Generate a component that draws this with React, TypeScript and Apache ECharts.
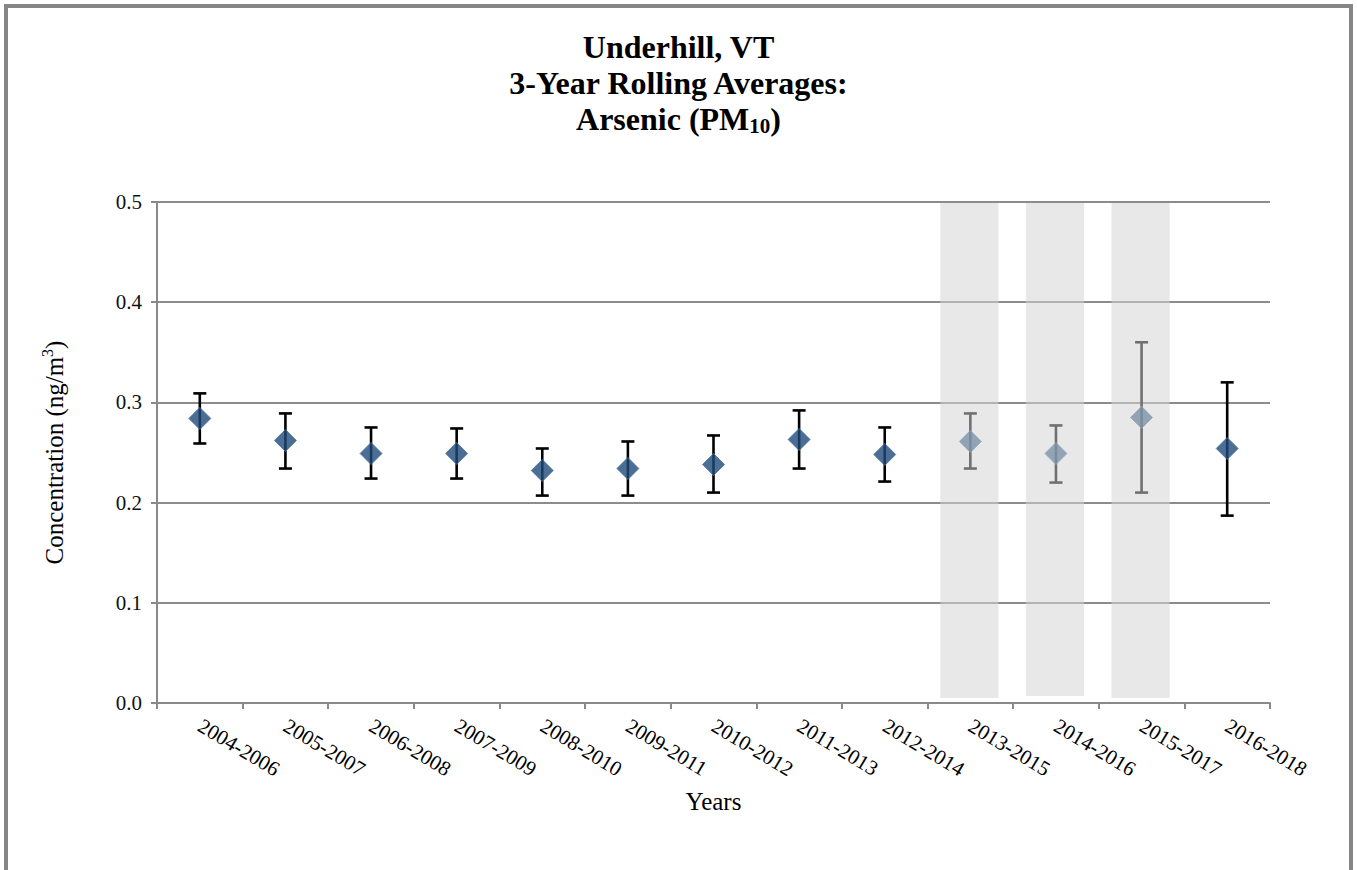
import React, { useEffect, useRef } from "react";
import * as echarts from "echarts";

// Rolling three-year periods
const periods = [
  "2004-2006", "2005-2007", "2006-2008", "2007-2009", "2008-2010",
  "2009-2011", "2010-2012", "2011-2013", "2012-2014", "2013-2015",
  "2014-2016", "2015-2017", "2016-2018",
];

// Rolling average concentrations (ng/m3)
const averages = [0.284, 0.262, 0.249, 0.249, 0.232, 0.234, 0.238, 0.263, 0.248, 0.261, 0.249, 0.285, 0.254];
// Confidence interval bounds
const lowerBounds = [0.259, 0.234, 0.224, 0.224, 0.207, 0.207, 0.210, 0.234, 0.221, 0.234, 0.220, 0.210, 0.187];
const upperBounds = [0.309, 0.289, 0.275, 0.274, 0.254, 0.261, 0.267, 0.292, 0.275, 0.289, 0.277, 0.360, 0.320];

// Shaded (incomplete) periods with band range
const shadedPeriods = ["2013-2015", "2014-2016", "2015-2017"];
const shadedLow = [0.005, 0.007, 0.005];
const shadedHigh = [0.499, 0.499, 0.499];

const yTicks = { min: 0, max: 0.5, interval: 0.1 };

const SERIF = "Liberation Serif";

export default function App() {
  const ref = useRef<HTMLDivElement>(null);

  useEffect(() => {
    if (!ref.current) return;
    const chart = echarts.init(ref.current, undefined, { renderer: "svg" });

    const errorData = periods.map((_, i) => [i, lowerBounds[i], upperBounds[i]]);
    const bandData = shadedPeriods.map((p, i) => [periods.indexOf(p), shadedLow[i], shadedHigh[i]]);

    chart.setOption({
      animation: false,
      backgroundColor: "#ffffff",
      textStyle: { fontFamily: SERIF },
      title: {
        left: "center",
        top: 24,
        text: "{t|Underhill, VT}\n{t|3-Year Rolling Averages:}\n{t|Arsenic (PM}{s|10}{t|)}",
        textStyle: {
          fontFamily: SERIF,
          rich: {
            t: { fontFamily: SERIF, fontSize: 32, fontWeight: "bold", color: "#000", lineHeight: 36 },
            s: { fontFamily: SERIF, fontSize: 21, fontWeight: "bold", color: "#000", lineHeight: 18, padding: [14, 0, 0, 0] },
          },
        },
      },
      graphic: [
        {
          type: "rect",
          shape: { x: 6, y: 6, width: 1345, height: 900 },
          style: { fill: "none", stroke: "#868686", lineWidth: 4 },
          silent: true,
        },
      ],
      grid: { left: 157, right: 87, top: 202, bottom: 167 },
      xAxis: {
        type: "category",
        data: periods,
        name: "Years",
        nameLocation: "middle",
        nameGap: 86,
        nameTextStyle: { fontFamily: SERIF, fontSize: 25, color: "#000" },
        axisLine: { lineStyle: { color: "#898989", width: 2 } },
        axisTick: { show: true, length: 6, lineStyle: { color: "#898989", width: 2 } },
        axisLabel: {
          rotate: -31,
          margin: 21,
          fontFamily: SERIF,
          fontSize: 21,
          color: "#000",
          interval: 0,
        },
      },
      yAxis: {
        type: "value",
        min: yTicks.min,
        max: yTicks.max,
        interval: yTicks.interval,
        name: "{a|Concentration (ng/m}{p|3}{a|)}",
        nameLocation: "middle",
        nameRotate: 90,
        nameGap: 88,
        nameTextStyle: {
          fontFamily: SERIF,
          rich: {
            a: { fontFamily: SERIF, fontSize: 25, color: "#000", lineHeight: 30 },
            p: { fontFamily: SERIF, fontSize: 16, color: "#000", lineHeight: 16, padding: [0, 0, 14, 0] },
          },
        },
        axisLine: { show: true, lineStyle: { color: "#898989", width: 2 } },
        axisTick: { show: true, length: 6, lineStyle: { color: "#898989", width: 2 } },
        axisLabel: {
          margin: 15,
          fontFamily: SERIF,
          fontSize: 21,
          color: "#111",
          formatter: (v: number) => v.toFixed(1),
        },
        splitLine: { show: true, lineStyle: { color: "#8c8c8c", width: 2 } },
      },
      series: [
        {
          type: "custom",
          name: "range",
          z: 2,
          data: errorData,
          renderItem: (params: any, api: any) => {
            const x = api.value(0);
            const top = api.coord([x, api.value(2)]);
            const bot = api.coord([x, api.value(1)]);
            const hw = 6.5;
            const style = { stroke: "#000", lineWidth: 2.6 };
            return {
              type: "group",
              children: [
                { type: "line", shape: { x1: top[0], y1: top[1], x2: bot[0], y2: bot[1] }, style },
                { type: "line", shape: { x1: top[0] - hw, y1: top[1], x2: top[0] + hw, y2: top[1] }, style },
                { type: "line", shape: { x1: bot[0] - hw, y1: bot[1], x2: bot[0] + hw, y2: bot[1] }, style },
              ],
            };
          },
        },
        {
          type: "scatter",
          name: "average",
          z: 3,
          data: averages,
          symbol: "diamond",
          symbolSize: [22, 22],
          itemStyle: { color: "#1f4a7b", borderColor: "#4d74a1", borderWidth: 1 },
        },
        {
          type: "custom",
          name: "shaded",
          z: 5,
          data: bandData,
          renderItem: (params: any, api: any) => {
            const x = api.value(0);
            const top = api.coord([x, api.value(2)]);
            const bot = api.coord([x, api.value(1)]);
            const w = api.size([1, 0])[0] * 0.68;
            return {
              type: "rect",
              shape: { x: top[0] - w / 2 - 1, y: top[1], width: w, height: bot[1] - top[1] },
              style: { fill: "rgba(211,211,211,0.53)" },
            };
          },
        },
      ],
    });

    return () => chart.dispose();
  }, []);

  return (
    <div
      ref={ref}
      style={{ position: "absolute", left: 0, top: 0, width: 1357, height: 870 }}
    />
  );
}
